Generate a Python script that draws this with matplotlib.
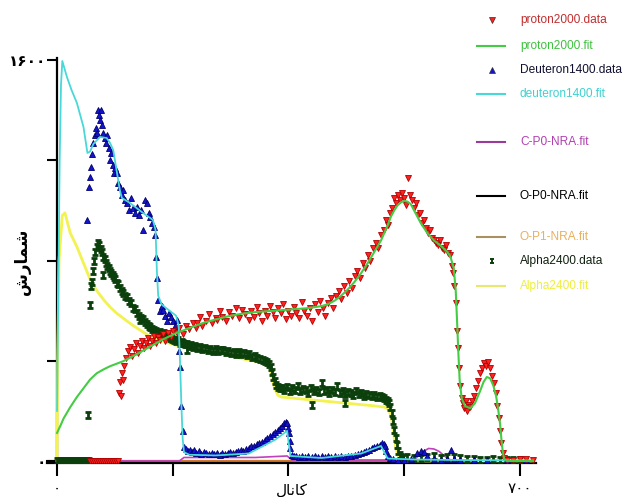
import numpy as np
import matplotlib
matplotlib.use("Agg")
import matplotlib.pyplot as plt
from matplotlib.lines import Line2D
from matplotlib.path import Path
from matplotlib import font_manager

# ---- data (channel, counts) ----
proton_fit = [(0, 112), (5, 140), (10, 170), (20, 215), (30, 255), (40, 290), (50, 325), (60, 350),
              (70, 365), (80, 378), (90, 388), (100, 398), (120, 425), (140, 455), (160, 485), (180, 510),
              (200, 530), (220, 550), (240, 565), (260, 578), (280, 588), (300, 594), (320, 598),
              (340, 602), (360, 606), (380, 610), (400, 618), (410, 626), (420, 640), (430, 660),
              (440, 685), (450, 715), (460, 750), (470, 790), (480, 835), (490, 880), (500, 940),
              (505, 975), (510, 1000), (515, 1020), (520, 1032), (525, 1038), (530, 1035), (535, 1025),
              (540, 1000), (545, 975), (550, 950), (560, 910), (570, 880), (580, 860), (590, 835),
              (595, 815), (600, 770), (603, 680), (605, 560), (607, 430), (609, 320), (612, 250),
              (617, 220), (625, 210), (632, 230), (640, 280), (645, 315), (650, 335), (655, 330),
              (660, 300), (664, 260), (667, 210), (670, 150), (672, 90), (674, 40), (676, 10),
              (680, 0), (720, 0)]

proton_data = [(50, 0), (53, 0), (56, 0), (59, 0), (62, 0), (65, 0), (68, 0), (71, 0), (74, 0), (77, 0),
               (80, 0), (83, 0), (86, 0), (89, 0), (92, 0),
               (94, 271), (95, 315), (97, 259), (98, 351), (100, 323), (102, 380), (105, 410), (108, 440),
               (110, 455), (113, 420), (116, 445), (119, 470), (122, 430), (125, 460), (128, 480),
               (131, 450), (134, 471), (137, 490), (140, 460), (143, 480), (146, 500), (149, 470),
               (152, 495), (156, 483), (160, 505), (164, 480), (168, 510), (172, 495), (176, 520),
               (181, 511), (185, 530), (190, 505), (195, 540), (200, 525), (205, 550), (210, 530),
               (212, 551), (216, 575), (220, 540), (225, 560), (230, 585), (235, 550), (240, 570),
               (242, 563), (246, 600), (250, 575), (255, 560), (260, 595), (265, 580), (270, 610),
               (275, 570), (280, 603), (285, 585), (290, 563), (294, 600), (298, 575), (302, 615),
               (306, 590), (310, 560), (314, 600), (318, 580), (322, 620), (326, 595), (330, 570),
               (334, 610), (338, 590), (342, 625), (346, 565), (350, 600), (354, 580), (358, 615),
               (362, 590), (366, 570), (370, 635), (374, 600), (378, 580), (382, 610), (386, 560),
               (390, 625), (394, 595), (398, 640), (402, 610), (406, 580), (410, 630), (414, 650),
               (418, 610), (422, 660), (426, 680), (430, 645), (434, 700), (438, 670), (442, 720),
               (446, 690), (450, 740), (454, 760), (458, 730), (462, 790), (466, 770), (470, 820),
               (474, 800), (478, 850), (482, 870), (486, 850), (490, 900), (494, 920), (498, 960),
               (501, 940), (504, 990), (507, 1010), (510, 1050), (513, 1030), (516, 1060), (519, 1040),
               (522, 1070), (525, 1050), (528, 1020), (531, 1130), (534, 1060), (537, 1040), (540, 1010),
               (543, 1030), (546, 980), (549, 990), (552, 950), (555, 960), (558, 930), (561, 910),
               (564, 920), (567, 890), (570, 880), (573, 870), (576, 860), (579, 880), (582, 850),
               (585, 840), (588, 860), (591, 830), (594, 820), (597, 780), (599, 750), (601, 700),
               (603, 630), (605, 520), (606, 450), (608, 370), (610, 300), (612, 250), (614, 230),
               (616, 210), (618, 240), (620, 200), (622, 225), (625, 215), (628, 240), (631, 260),
               (634, 290), (637, 320), (640, 350), (643, 370), (646, 390), (649, 380), (652, 395),
               (655, 370), (658, 340), (661, 310), (664, 270), (666, 220), (668, 170), (670, 120),
               (672, 70), (674, 30), (676, 10), (680, 5), (690, 4), (700, 6), (710, 8), (720, 5)]

deut_fit = [(0, 200), (2, 700), (4, 1200), (6, 1500), (8, 1596), (15, 1532), (22, 1480), (30, 1429),
            (40, 1333), (46, 1229), (50, 1235), (55, 1265), (65, 1293), (75, 1289), (80, 1270),
            (85, 1241), (90, 1161), (95, 1081), (98, 1050), (110, 1030), (130, 990), (145, 962),
            (149, 922), (151, 760), (153, 660), (158, 625), (170, 600), (180, 580), (184, 540),
            (186, 400), (188, 230), (190, 90), (192, 35), (200, 25), (240, 22), (290, 30), (330, 85),
            (348, 120), (353, 20), (400, 12), (460, 30), (490, 60), (500, 10), (540, 6), (600, 4),
            (720, 2)]

deut_data = [(46, 962), (48, 1093), (50, 1133), (52, 1173), (53, 1225), (55, 1269), (57, 1300),
             (59, 1330), (60, 1309), (62, 1400), (63, 1380), (65, 1361), (66, 1400), (68, 1340),
             (70, 1309), (72, 1290), (74, 1270), (76, 1300), (78, 1250), (80, 1201), (82, 1230),
             (84, 1180), (86, 1150), (88, 1170), (90, 1149), (92, 1110), (95, 1093), (98, 1060),
             (100, 1080), (103, 1040), (106, 1030), (109, 1000), (112, 1050), (115, 1010), (118, 990),
             (121, 1014), (124, 980), (127, 1000), (130, 922), (133, 1040), (136, 1030), (139, 990),
             (141, 974), (144, 950), (146, 934), (148, 900), (150, 814), (151, 730), (153, 642),
             (156, 600), (159, 620), (161, 603), (164, 580), (167, 560), (170, 590), (173, 575),
             (176, 560), (179, 540), (181, 563), (184, 440), (186, 375), (188, 220), (190, 120),
             (192, 55), (195, 48), (198, 40), (201, 45), (204, 35), (207, 42), (210, 30), (214, 38),
             (218, 28), (222, 34), (226, 30), (230, 26), (234, 32), (238, 28), (242, 30), (246, 25),
             (250, 32), (254, 28), (258, 30), (262, 34), (266, 30), (270, 36), (274, 40), (278, 44),
             (282, 40), (286, 48), (290, 52), (294, 60), (298, 58), (302, 66), (306, 72), (310, 76),
             (314, 84), (318, 90), (322, 98), (326, 106), (330, 116), (334, 124), (337, 130),
             (340, 140), (343, 150), (346, 156), (348, 152), (350, 130), (351, 110), (352, 80),
             (353, 50), (355, 22), (358, 18), (362, 20), (366, 14), (370, 18), (375, 15), (380, 20),
             (385, 14), (390, 18), (395, 16), (400, 20), (405, 15), (410, 18), (415, 14), (420, 20),
             (425, 16), (430, 18), (435, 15), (440, 20), (445, 18), (450, 24), (455, 26), (460, 30),
             (464, 36), (468, 40), (472, 44), (476, 50), (480, 56), (484, 58), (488, 64), (491, 70),
             (494, 68), (496, 60), (498, 40), (500, 20), (503, 10), (508, 6), (515, 4), (525, 5),
             (535, 6), (545, 30), (550, 40), (555, 35), (560, 20), (570, 6), (580, 5), (590, 8),
             (596, 44), (600, 8), (610, 4), (630, 3), (650, 2), (680, 2), (710, 2)]

alpha_fit = [(0, 0), (1, 400), (3, 800), (8, 980), (12, 990), (16, 950), (20, 910), (30, 855),
             (40, 790), (50, 725), (60, 680), (70, 645), (80, 615), (90, 590), (100, 570), (110, 550),
             (120, 532), (130, 515), (140, 498), (150, 488), (160, 478), (170, 470), (180, 462),
             (190, 456), (200, 450), (220, 440), (240, 430), (260, 420), (280, 408), (300, 398),
             (310, 392), (318, 385), (322, 370), (326, 320), (330, 285), (334, 262), (340, 255),
             (360, 250), (380, 245), (400, 240), (420, 235), (440, 230), (460, 225), (480, 220),
             (495, 215), (502, 205), (506, 170), (509, 110), (512, 60), (515, 25), (518, 8), (522, 0),
             (720, 0)]

alpha_data = [(0, 0), (3, 0), (6, 0), (9, 0), (12, 0), (15, 0), (18, 0), (21, 0), (24, 0), (27, 0),
              (30, 0), (33, 0), (36, 0), (39, 0), (42, 0), (45, 0), (48, 0),
              (47, 184), (50, 622), (52, 700), (53, 714), (54, 760), (56, 800), (58, 835), (60, 855),
              (62, 870), (64, 862), (66, 845), (68, 835), (70, 812), (70, 742), (72, 805), (74, 790),
              (76, 780), (78, 770), (80, 760), (82, 750), (84, 742), (86, 735), (88, 725), (90, 712),
              (92, 705), (95, 690), (98, 680), (100, 672), (103, 660), (106, 654), (109, 640),
              (112, 630), (115, 612), (118, 605), (121, 590), (124, 580), (126, 563), (127, 572),
              (130, 565), (133, 555), (136, 548), (139, 540), (141, 535), (144, 528), (147, 522),
              (150, 518), (153, 512), (156, 515), (159, 505), (162, 511), (165, 498), (168, 502),
              (171, 492), (174, 488), (177, 484), (180, 478), (183, 482), (186, 472), (189, 476),
              (191, 471), (194, 466), (197, 443), (197, 468), (200, 460), (203, 462), (206, 456),
              (209, 458), (212, 452), (216, 455), (220, 448), (224, 452), (228, 444), (232, 448),
              (236, 440), (240, 446), (244, 438), (248, 442), (251, 443), (255, 436), (259, 440),
              (263, 432), (267, 436), (271, 428), (275, 434), (279, 426), (283, 430), (287, 422),
              (291, 426), (295, 415), (299, 420), (303, 412), (307, 408), (311, 404), (315, 400),
              (318, 395), (321, 388), (323, 375), (325, 355), (327, 335), (329, 318), (331, 305),
              (334, 296), (337, 292), (340, 290), (344, 285), (348, 295), (352, 280), (356, 290),
              (360, 282), (364, 300), (368, 278), (372, 288), (376, 284), (380, 270), (384, 290),
              (386, 225), (388, 280), (392, 283), (396, 275), (400, 310), (404, 278), (408, 285),
              (412, 270), (416, 282), (420, 276), (424, 300), (428, 272), (432, 280), (436, 268),
              (436, 232), (440, 275), (444, 270), (448, 262), (452, 278), (456, 268), (460, 272),
              (464, 260), (468, 268), (472, 262), (476, 258), (480, 265), (484, 255), (488, 260),
              (492, 255), (495, 250), (498, 245), (500, 240), (502, 232), (504, 215), (506, 190),
              (508, 160), (510, 125), (512, 90), (514, 65), (516, 40), (518, 25), (520, 15), (524, 12),
              (530, 15), (540, 10), (550, 12), (560, 14), (570, 18), (580, 12), (590, 15), (600, 14),
              (610, 10), (620, 8), (630, 6), (640, 5), (650, 4), (660, 6), (670, 5), (680, 3),
              (690, 2), (700, 2)]

cp0_fit = [(0, 0), (185, 0), (192, 14), (300, 14), (348, 20), (355, 4), (540, 4), (548, 25), (555, 40),
           (562, 50), (570, 48), (578, 38), (585, 22), (592, 8), (600, 0), (720, 0)]
op0_fit = [(-15, 0), (720, 0)]
op1_fit = [(48, 0), (720, 0)]

x_ticks = [0, 175, 350, 525, 700]
x_tick_labels = ["۰", "", "", "", "۷۰۰"]
y_ticks = [0, 400, 800, 1200, 1600]
y_tick_labels = ["۰", "", "", "", "۱۶۰۰"]
x_title = "کانال"
y_title = "شمارش"

# minimal Arabic/Persian shaping (matplotlib has no text shaping)
FORMS = {
    'ک': ('\uFB8E', '\uFB8F', '\uFB90', '\uFB91'),
    'ا': ('\uFE8D', '\uFE8E', None, None),
    'ن': ('\uFEE5', '\uFEE6', '\uFEE7', '\uFEE8'),
    'ل': ('\uFEDD', '\uFEDE', '\uFEDF', '\uFEE0'),
    'ش': ('\uFEB5', '\uFEB6', '\uFEB7', '\uFEB8'),
    'م': ('\uFEE1', '\uFEE2', '\uFEE3', '\uFEE4'),
    'ر': ('\uFEAD', '\uFEAE', None, None),
}


def shape(word):
    out = []
    for i, ch in enumerate(word):
        f = FORMS[ch]
        prev = word[i - 1] if i > 0 else None
        nxt = word[i + 1] if i < len(word) - 1 else None
        jp = prev is not None and FORMS[prev][2] is not None
        jn = nxt is not None and f[2] is not None
        if jp and jn:
            out.append(f[3])
        elif jp:
            out.append(f[1])
        elif jn:
            out.append(f[2])
        else:
            out.append(f[0])
    return "".join(reversed(out))


def xy(pairs):
    a = np.array(pairs, dtype=float)
    return a[:, 0], a[:, 1]


# legend font: a narrow face if there is one, otherwise a smaller regular one
installed = {f.name for f in font_manager.fontManager.ttflist}
if 'Liberation Sans Narrow' in installed:
    legend_font, legend_size = 'Liberation Sans Narrow', 10
else:
    legend_font, legend_size = 'Liberation Sans', 8.6

# "I" shaped marker used for the alpha data
ibar = Path([(-1, 1), (1, 1), (0, 1), (0, -1), (-1, -1), (1, -1)],
            [Path.MOVETO, Path.LINETO, Path.MOVETO, Path.LINETO, Path.MOVETO, Path.LINETO])

W, H = 638, 497
fig = plt.figure(figsize=(W / 100, H / 100), dpi=100)
ax = fig.add_axes([47.1 / W, 1 - 463 / H, (536.4 - 47.1) / W, (463 - 57.5) / H])

c = {
    'p_data': '#ff2020', 'p_data_e': '#b00000', 'p_fit': '#44cc44',
    'd_data': '#1414d0', 'd_data_e': '#000070', 'd_fit': '#48d8d8',
    'cp0': '#c040c0', 'op0': '#000000', 'op1': '#d07a30',
    'a_data': '#0b3f0b', 'a_fit': '#f2f250',
}

ax.plot(*xy(op0_fit), color=c['op0'], lw=1.5, zorder=2, clip_on=False)
ax.plot(*xy(op1_fit), color=c['op1'], lw=1.5, zorder=2)
ax.plot(*xy(cp0_fit), color=c['cp0'], lw=1.2, zorder=2)

ax.plot(*xy(alpha_fit), color=c['a_fit'], lw=2.0, zorder=3)
ax.plot(*xy(alpha_data), ls='none', marker=ibar, ms=4.4, mew=2.0, color=c['a_data'], zorder=4)

ax.plot(*xy(deut_data), ls='none', marker='^', ms=5, mfc=c['d_data'], mec=c['d_data_e'],
        mew=0.6, zorder=5)
ax.plot(*xy(deut_fit), color=c['d_fit'], lw=1.3, zorder=6)

ax.plot(*xy(proton_data), ls='none', marker='v', ms=5, mfc=c['p_data'], mec=c['p_data_e'],
        mew=0.6, zorder=5)
ax.plot(*xy(proton_fit), color=c['p_fit'], lw=1.5, zorder=6)

ax.set_xlim(-15, 725)
ax.set_ylim(-8, 1610)
for s in ['top', 'right']:
    ax.spines[s].set_visible(False)
ax.spines['left'].set_position(('data', 0))
ax.spines['left'].set_linewidth(1.6)
ax.spines['bottom'].set_linewidth(1.6)

ax.set_xticks(x_ticks)
ax.set_xticklabels(x_tick_labels, fontsize=11, family='DejaVu Sans')
ax.set_yticks(y_ticks)
ax.set_yticklabels(y_tick_labels, fontsize=11, fontweight='bold', family='DejaVu Sans')
ax.tick_params(axis='x', direction='out', length=9, width=1.5, pad=4)
ax.tick_params(axis='y', direction='out', length=7, width=1.5, pad=1)

ax.set_xlabel(shape(x_title), fontsize=11, family='DejaVu Sans', va='center')
ax.xaxis.set_label_coords(0.5, -0.066)
fig.text(22 / W, 1 - 262 / H, shape(y_title), rotation=90, fontsize=12, fontweight='bold',
         family='DejaVu Sans', ha='center', va='center')

# legend, drawn by hand because the entries are spaced unevenly
legend_items = [
    ("proton2000.data", 20, 'v', c['p_data'], '#c03030'),
    ("proton2000.fit", 46, '-', c['p_fit'], '#40c040'),
    ("Deuteron1400.data", 70, '^', c['d_data'], '#101030'),
    ("deuteron1400.fit", 94, '-', c['d_fit'], '#40d0d0'),
    ("C-P0-NRA.fit", 142, '-', '#9a3a9a', '#b040b0'),
    ("O-P0-NRA.fit", 196, '-', '#000000', '#000000'),
    ("O-P1-NRA.fit", 237, '-', '#a89060', '#e8b060'),
    ("Alpha2400.data", 261, 'I', c['a_data'], '#102010'),
    ("Alpha2400.fit", 286, '-', '#e8e870', '#eeee40'),
]
for label, ypx, kind, hcol, tcol in legend_items:
    yf = 1 - ypx / H
    if kind == '-':
        fig.add_artist(Line2D([477 / W, 505 / W], [yf, yf], color=hcol, lw=1.5,
                              transform=fig.transFigure))
    elif kind == 'I':
        fig.add_artist(Line2D([492 / W], [yf], marker=ibar, ms=3, mew=1.4, color=hcol,
                              ls='none', transform=fig.transFigure))
    else:
        fig.add_artist(Line2D([492 / W], [yf], marker=kind, ms=4, mfc=hcol, mec='#303030',
                              mew=0.5, ls='none', transform=fig.transFigure))
    fig.text(520 / W, yf, label, color=tcol, fontsize=legend_size, va='center', ha='left',
             family=legend_font)

fig.savefig("out.png", dpi=100)
